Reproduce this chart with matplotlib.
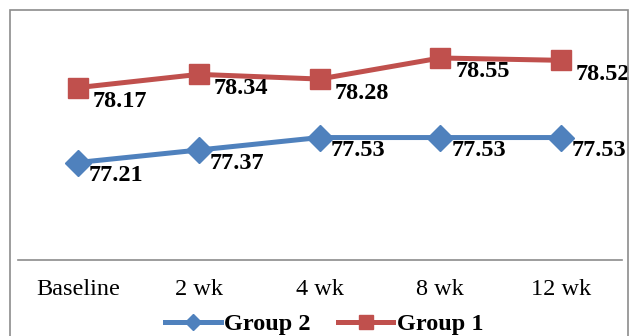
import matplotlib
matplotlib.use("Agg")
import matplotlib.pyplot as plt
from matplotlib.patches import Rectangle

categories = ["Baseline", "2 wk", "4 wk", "8 wk", "12 wk"]
group1 = [78.17, 78.34, 78.28, 78.55, 78.52]
group2 = [77.21, 77.37, 77.53, 77.53, 77.53]

plt.rcParams["font.family"] = ["Liberation Serif", "DejaVu Serif"]

fig = plt.figure(figsize=(6.32, 3.36), dpi=100)
ax = fig.add_axes([0.0277, 0.2262, 0.9557, 0.6964])

x = list(range(len(categories)))
blue = "#4F81BD"
red = "#C0504D"

ax.plot(x, group2, color=blue, lw=3.6, marker="D", ms=13, label="Group 2")
ax.plot(x, group1, color=red, lw=3.6, marker="s", ms=14.5, label="Group 1")

for xi, v in zip(x, group1):
    ax.annotate(f"{v:.2f}", (xi, v), xytext=(15, -14), textcoords="offset pixels",
                ha="left", va="center", fontsize=17.5, fontweight="bold")
for xi, v in zip(x, group2):
    ax.annotate(f"{v:.2f}", (xi, v), xytext=(11, -13), textcoords="offset pixels",
                ha="left", va="center", fontsize=17.5, fontweight="bold")

ax.set_xlim(-0.5, len(categories) - 0.5)
ax.set_ylim(75.96, 78.96)
ax.set_xticks(x)
ax.set_xticklabels(categories, fontsize=17.5)
ax.tick_params(axis="x", length=0, pad=14)
ax.set_yticks([])
for s in ["top", "right", "left"]:
    ax.spines[s].set_visible(False)
ax.spines["bottom"].set_color("#8C8C8C")
ax.spines["bottom"].set_linewidth(1.2)

fig.legend(loc="center", bbox_to_anchor=(0.513, 0.035), ncol=2, frameon=False,
           prop={"size": 17.5, "weight": "bold"}, handlelength=2.3,
           handletextpad=0.15, columnspacing=1.1, markerscale=0.65)

fig.patches.append(Rectangle((10 / 632, -0.05), 618 / 632, 1 - 10 / 336 + 0.05,
                             transform=fig.transFigure, fill=False,
                             edgecolor="#8C8C8C", lw=1.2))

fig.savefig("out.png", dpi=100)
